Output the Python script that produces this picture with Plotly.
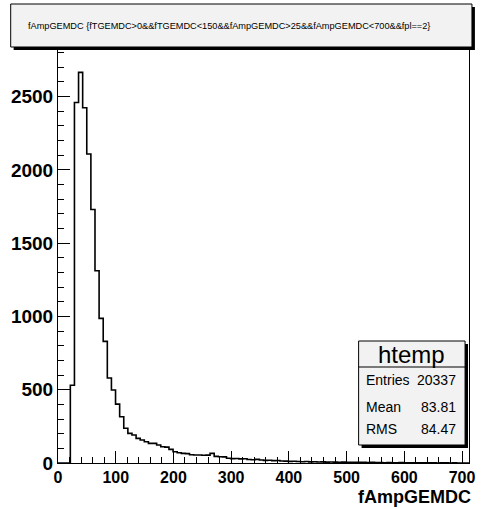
import plotly.graph_objects as go

# ---- data ----
x_min = 0.0
x_max = 712.0
n_bins = 100
counts = [0, 0, 0, 530, 2460, 2665, 2424, 2108, 1730, 1312,
          987, 830, 580, 498, 402, 316, 237, 202, 191, 168,
          157, 145, 134, 134, 123, 111, 108, 93, 77, 70,
          66, 64, 56, 55, 55, 53, 54, 66, 45, 43,
          42, 32, 30, 31, 28, 29, 24, 22, 25, 20,
          18, 19, 16, 17, 14, 13, 11, 12, 10, 9,
          10, 8, 9, 7, 8, 6, 7, 6, 5, 6,
          5, 4, 5, 4, 4, 3, 4, 3, 3, 2,
          3, 2, 2, 3, 2, 1, 2, 1, 2, 1,
          1, 1, 0, 1, 1, 0, 1, 0, 0, 0]
x_ticks = [0, 100, 200, 300, 400, 500, 600, 700]
y_ticks = [0, 500, 1000, 1500, 2000, 2500]
title_text = "fAmpGEMDC {fTGEMDC>0&&fTGEMDC<150&&fAmpGEMDC>25&&fAmpGEMDC<700&&fpl==2}"
x_title = "fAmpGEMDC"
stats_name = "htemp"
stats_labels = ["Entries", "Mean", "RMS"]
stats_values = ["20337", "83.81", "84.47"]

# ---- geometry ----
W, H = 484, 509
ML, MR, MT, MB = 58, 9, 50, 46
PW, PH = W - ML - MR, H - MT - MB


def px(xp):
    return (xp - ML) / PW


def py(yp):
    return (H - MB - yp) / PH


bw = (x_max - x_min) / n_bins
edges = [x_min + i * bw for i in range(n_bins + 1)]
xs = edges
ys = counts + [counts[-1]]

fig = go.Figure()
fig.add_trace(go.Scatter(x=xs, y=ys, mode="lines", line_shape="hv",
                         line=dict(color="black", width=1.6),
                         hoverinfo="skip", showlegend=False))

axis_common = dict(showline=True, linecolor="black", linewidth=1, mirror=True,
                   ticks="inside", ticklen=12, tickcolor="black", tickwidth=1,
                   showgrid=False, zeroline=False)

fig.update_layout(
    width=W, height=H,
    margin=dict(l=ML, r=MR, t=MT, b=MB, pad=0),
    paper_bgcolor="white", plot_bgcolor="white",
    showlegend=False,
    xaxis=dict(range=[x_min, x_max], tickvals=x_ticks,
               ticktext=["<b>%d</b>" % v for v in x_ticks],
               minor=dict(ticks="inside", ticklen=6, dtick=20, tick0=0,
                          tickcolor="black", showgrid=False),
               tickfont=dict(family="Liberation Sans", size=16, color="black"),
               **axis_common),
    yaxis=dict(range=[0, 2818], tickvals=y_ticks,
               ticktext=["<b>%d</b>" % v for v in y_ticks],
               minor=dict(ticks="inside", ticklen=6, dtick=100, tick0=0,
                          tickcolor="black", showgrid=False),
               tickfont=dict(family="Liberation Sans", size=19, color="black"),
               **axis_common),
)

shapes = []
# title box with shadow
shapes.append(dict(type="rect", xref="paper", yref="paper",
                   x0=px(13), x1=px(481), y0=py(50), y1=py(7),
                   fillcolor="black", line=dict(width=0), layer="above"))
shapes.append(dict(type="rect", xref="paper", yref="paper",
                   x0=px(10), x1=px(478), y0=py(47), y1=py(4),
                   fillcolor="#f2f2f2", line=dict(color="black", width=1), layer="above"))
# stats box with shadow
shapes.append(dict(type="rect", xref="paper", yref="paper",
                   x0=px(366), x1=px(474), y0=py(448), y1=py(344),
                   fillcolor="black", line=dict(width=0), layer="above"))
shapes.append(dict(type="rect", xref="paper", yref="paper",
                   x0=px(363), x1=px(471), y0=py(445), y1=py(341),
                   fillcolor="#f2f2f2", line=dict(color="black", width=1), layer="above"))
shapes.append(dict(type="line", xref="paper", yref="paper",
                   x0=px(363), x1=px(471), y0=py(367), y1=py(367),
                   line=dict(color="black", width=1), layer="above"))
fig.update_layout(shapes=shapes)

ann = []
ann.append(dict(text=title_text, xref="paper", yref="paper",
                x=px(232), y=py(26), xanchor="center", yanchor="middle",
                showarrow=False,
                font=dict(family="Liberation Sans", size=9.2, color="black")))
ann.append(dict(text="<b>%s</b>" % x_title, xref="paper", yref="paper",
                x=px(478), y=py(508), xanchor="right", yanchor="bottom",
                showarrow=False, borderpad=0,
                font=dict(family="Liberation Sans", size=18, color="black")))
ann.append(dict(text=stats_name, xref="paper", yref="paper",
                x=px(417), y=py(354), xanchor="center", yanchor="middle",
                showarrow=False,
                font=dict(family="Liberation Sans", size=24, color="black")))
row_y = [380, 407, 429]
for lab, val, ry in zip(stats_labels, stats_values, row_y):
    ann.append(dict(text=lab, xref="paper", yref="paper",
                    x=px(368), y=py(ry), xanchor="left", yanchor="middle",
                    showarrow=False,
                    font=dict(family="Liberation Sans", size=14, color="black")))
    ann.append(dict(text=val, xref="paper", yref="paper",
                    x=px(464), y=py(ry), xanchor="right", yanchor="middle",
                    showarrow=False,
                    font=dict(family="Liberation Sans", size=14, color="black")))
fig.update_layout(annotations=ann)

fig.write_html("out.html")
